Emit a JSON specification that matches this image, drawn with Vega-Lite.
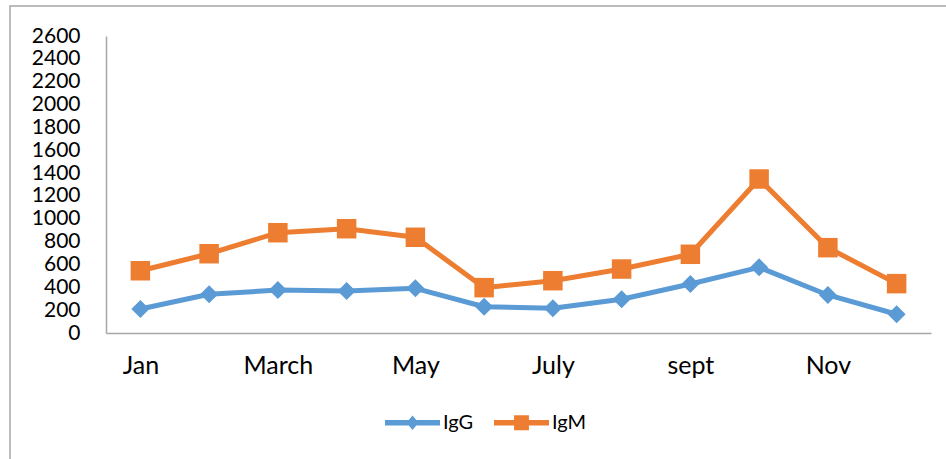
{
  "$schema": "https://vega.github.io/schema/vega-lite/v6.json",
  "autosize": "none",
  "width": 946,
  "height": 463,
  "padding": {"left": 10, "top": 6, "right": -10, "bottom": -10},
  "background": "white",
  "config": {
    "view": {"stroke": "#a6a6a6", "strokeWidth": 1.5},
    "font": "Lato"
  },
  "data": {
    "values": [
      {"month": "Jan", "series": "IgG", "value": 210},
      {"month": "Feb", "series": "IgG", "value": 339},
      {"month": "March", "series": "IgG", "value": 376},
      {"month": "April", "series": "IgG", "value": 368},
      {"month": "May", "series": "IgG", "value": 391},
      {"month": "June", "series": "IgG", "value": 230},
      {"month": "July", "series": "IgG", "value": 216},
      {"month": "Aug", "series": "IgG", "value": 295},
      {"month": "sept", "series": "IgG", "value": 429},
      {"month": "Oct", "series": "IgG", "value": 575},
      {"month": "Nov", "series": "IgG", "value": 333},
      {"month": "Dec", "series": "IgG", "value": 164},
      {"month": "Jan", "series": "IgM", "value": 545},
      {"month": "Feb", "series": "IgM", "value": 694},
      {"month": "March", "series": "IgM", "value": 878},
      {"month": "April", "series": "IgM", "value": 913},
      {"month": "May", "series": "IgM", "value": 838},
      {"month": "June", "series": "IgM", "value": 397},
      {"month": "July", "series": "IgM", "value": 458},
      {"month": "Aug", "series": "IgM", "value": 560},
      {"month": "sept", "series": "IgM", "value": 689},
      {"month": "Oct", "series": "IgM", "value": 1348},
      {"month": "Nov", "series": "IgM", "value": 747},
      {"month": "Dec", "series": "IgM", "value": 432}
    ]
  },
  "encoding": {
    "x": {
      "field": "month",
      "type": "ordinal",
      "sort": ["Jan", "Feb", "March", "April", "May", "June", "July", "Aug", "sept", "Oct", "Nov", "Dec"],
      "scale": {"type": "point", "padding": 0.5, "range": [96, 921]},
      "title": null,
      "axis": {
        "values": ["Jan", "March", "May", "July", "sept", "Nov"],
        "offset": -136,
        "labelAngle": 0,
        "ticks": false,
        "grid": false,
        "domainColor": "#a6a6a6",
        "domainWidth": 1.5,
        "labelFont": "Lato",
        "labelFontSize": 25,
        "labelColor": "#000000",
        "labelPadding": 20
      }
    },
    "y": {
      "field": "value",
      "type": "quantitative",
      "scale": {"domain": [0, 2600], "nice": false, "range": [327, 30]},
      "title": null,
      "axis": {
        "values": [0, 200, 400, 600, 800, 1000, 1200, 1400, 1600, 1800, 2000, 2200, 2400, 2600],
        "format": "d",
        "offset": -96,
        "ticks": false,
        "grid": false,
        "domainColor": "#a6a6a6",
        "domainWidth": 1.5,
        "labelFont": "Lato",
        "labelFontSize": 21,
        "labelColor": "#000000",
        "labelPadding": 26,
        "labelFlush": false,
        "labelOverlap": false
      }
    },
    "color": {
      "field": "series",
      "type": "nominal",
      "scale": {"domain": ["IgG", "IgM"], "range": ["#5b9bd5", "#ed7d31"]},
      "title": null,
      "legend": {
        "orient": "none",
        "legendX": 375,
        "legendY": 389,
        "direction": "horizontal",
        "symbolSize": 3025,
        "symbolStrokeWidth": 0,
        "labelFont": "Lato",
        "labelFontSize": 20,
        "labelColor": "#000000",
        "labelOffset": 3,
        "columnPadding": 20,
        "encode": {
          "symbols": {
            "update": {
              "shape": {"signal": "datum.value === 'IgG' ? 'M-1,-0.1H1V0.1H-1Z M0,-0.26L0.22,0L0,0.26L-0.22,0Z' : 'M-1,-0.1H1V0.1H-1Z M-0.27,-0.27H0.27V0.27H-0.27Z'"},
              "fillOpacity": {"value": 1},
              "strokeWidth": {"value": 0}
            }
          }
        }
      }
    }
  },
  "layer": [
    {
      "mark": {"type": "line", "strokeWidth": 5, "strokeJoin": "round", "strokeCap": "round"}
    },
    {
      "mark": {"type": "point", "filled": true, "opacity": 1},
      "encoding": {
        "shape": {
          "condition": {"test": "datum.series === 'IgG'", "value": "diamond"},
          "value": "square"
        },
        "size": {
          "condition": {"test": "datum.series === 'IgG'", "value": 324},
          "value": 380
        }
      }
    }
  ]
}
